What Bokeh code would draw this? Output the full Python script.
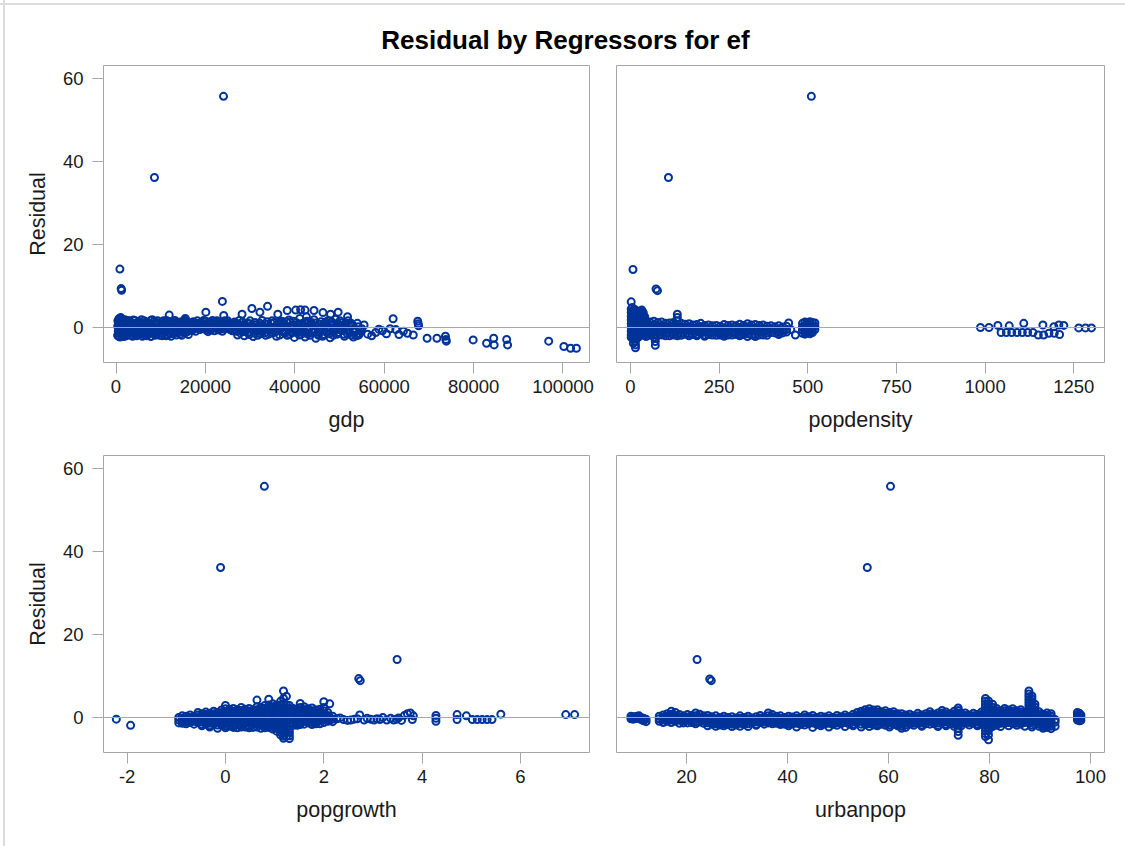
from bokeh.plotting import figure
from bokeh.models import Range1d, FixedTicker, Span, Label, BasicTickFormatter
from bokeh.layouts import column, row
from bokeh.embed import file_html
from bokeh.resources import INLINE

# ---------------- data ----------------
title_text = "Residual by Regressors for ef"
y_label = "Residual"
y_ticks = [0, 20, 40, 60]

gdp_ticks = [0, 20000, 40000, 60000, 80000, 100000]
popdensity_ticks = [0, 250, 500, 750, 1000, 1250]
popgrowth_ticks = [-2, 0, 2, 4, 6]
urbanpop_ticks = [20, 40, 60, 80, 100]

# gdp panel: (gdp, residual)
gdp_points = [
    (350, -1.9), (380, 0.3), (420, 1.6), (500, -0.9), (560, 0.9), (600, -2.1), (650, 2.1), (700, -0.2),
    (760, 1.2), (800, -1.4), (850, 0.5), (900, -2.3), (950, 1.8), (1000, -0.6), (1050, 2.4), (1100, 0.1),
    (1150, -1.7), (1200, 1.0), (1250, -1.0), (1300, 2.0), (1400, -2.0), (1450, 0.6), (1500, -0.4),
    (1600, 1.5), (1650, -1.5), (1700, 0.2), (1800, -2.2), (1850, 1.1), (1900, -0.8), (2000, 1.9),
    (2100, -1.2), (2200, 0.4), (2300, -2.0), (2400, 1.3), (2500, -0.3), (2600, 0.9), (2700, -1.6),
    (2800, 1.7), (2900, -0.7), (3000, 0.3),
    (3200, -1.8), (3400, 1.2), (3600, -0.5), (3800, 0.6), (4000, -1.3), (4200, 1.7), (4400, -0.1),
    (4600, -2.0), (4800, 0.9), (5000, -0.9), (5200, 1.4), (5400, 0.2), (5600, -1.6), (5800, 0.7),
    (6000, -0.4), (6300, 1.6), (6500, -1.9), (6800, 0.3), (7000, -1.0), (7200, 1.1), (7500, -0.2),
    (7800, -2.2), (8000, 0.8), (8300, -1.2), (8600, 1.5), (8900, 0.0), (9200, -1.7), (9500, 0.9),
    (9800, -0.6), (10100, 1.3), (10400, -1.4), (10700, 0.4), (11000, -0.3), (11300, 1.7), (11600, -1.8),
    (11900, 0.6), (12200, -0.8), (12500, 1.2), (12800, -1.5), (13100, 0.2), (13400, 1.0), (13700, -0.9),
    (14000, 0.5), (14300, -1.6), (14600, 1.4), (14900, -0.2), (15200, 0.9), (15500, -1.3), (15800, 1.6),
    (16100, 0.1), (16400, -0.7), (16700, 1.1),
    (3100, 0.8), (3500, -1.0), (3900, 1.8), (4300, -1.7), (4700, 0.3), (5100, -0.4), (5500, 1.0),
    (5900, -2.1), (6200, -0.8), (6600, 0.9), (7100, -1.5), (7400, 0.5), (7700, 1.6), (8200, -0.3),
    (8700, -1.9), (9000, 1.1), (9400, -0.9), (9900, 0.2), (10300, -2.0), (10600, 1.6), (11100, -1.0),
    (11500, 0.9), (12000, -1.4), (12400, 0.0), (12900, 1.5), (13300, -1.2), (13800, 0.8), (14200, -0.5),
    (14700, -1.9), (15100, 0.3), (15600, 1.2), (16000, -1.0), (16500, 0.5),
    (3300, 0.0), (3700, -2.1), (4100, 0.4), (4500, 1.1), (4900, -1.6), (5300, -0.6), (5700, 1.9),
    (6100, 0.6), (6400, -1.2), (6700, 1.3), (6900, -2.0), (7300, -0.6), (7600, 0.9), (7900, -0.9),
    (8100, 1.9), (8400, 0.4), (8800, -1.3), (9100, -0.3), (9300, 1.6), (9700, -1.9), (10000, -0.8),
    (10200, 0.7), (10500, -0.4), (10900, 1.0), (11200, -2.0), (11400, 0.1), (11800, 1.4), (12100, -0.2),
    (12300, -2.1), (12700, 0.6), (13000, -0.8), (13200, 1.7), (13500, -1.8), (13900, -0.3), (14100, 1.2),
    (14400, 0.0), (14800, 0.8), (15000, -1.1), (15300, 1.7), (15700, -0.5), (15900, 0.4), (16200, -1.7),
    (16600, 0.9), (16900, -0.3),
    (17000, 0.6), (17300, 1.4), (17600, -0.2), (17900, 0.9), (18200, 1.6), (18500, 0.2), (18800, -0.5),
    (19100, 1.2), (19400, 0.5), (19700, -0.1), (20000, 1.5), (20300, 0.8), (20600, -1.0), (20900, 0.2),
    (21200, 1.2), (21500, -0.3), (21800, 0.7), (22100, 1.4), (22400, 0.0), (22700, 0.9), (23000, -0.6),
    (23300, 0.4), (23600, 1.1), (23900, -0.3), (24200, 0.6), (24500, 1.3), (24800, -0.2), (25100, 0.3),
    (25500, -0.5), (25900, 0.8), (26300, 0.1), (26700, 1.0),
    (17100, -0.6), (17700, 1.1), (18300, -0.2), (19000, 0.3), (19600, 1.7), (20200, -0.6), (20800, 1.0),
    (21400, 0.4), (22000, -0.8), (22600, 1.6), (23200, 0.1), (23800, -0.9), (24400, 0.8), (25000, 1.6),
    (25700, -0.2), (26400, 0.5), (27000, -0.9),
    (17400, 0.3), (17800, -0.9), (18100, 0.6), (18600, 1.0), (18900, -0.1), (19300, 0.9), (19800, 0.3),
    (20400, -0.2), (20700, 1.3), (21100, -0.6), (21600, 1.7), (21900, 0.2), (22300, 0.9), (22800, -0.4),
    (23100, 1.3), (23500, -0.1), (24000, 0.3), (24300, 1.6), (24700, 0.5), (25300, 1.1), (25600, 0.4),
    (26000, -0.8), (26500, 1.3), (26900, 0.3),
    (27200, -1.8), (27500, 0.5), (27900, -0.7), (28300, 1.3), (28700, -2.0), (29100, 0.1), (29500, -1.2),
    (29900, 0.9), (30300, -0.4), (30700, -2.2), (31100, 1.2), (31500, -0.9), (31900, 0.3), (32300, -1.5),
    (32700, 1.7), (33100, -0.2), (33500, -1.9), (33900, 0.7), (34300, -0.6), (34700, 1.0), (35100, -1.3),
    (35500, 0.2), (35900, -2.1), (36300, 0.9), (36700, -0.5), (37100, 1.5), (37500, -1.1), (37900, 0.4),
    (38300, -1.9), (38700, 1.8), (39100, -0.3), (39500, 0.6), (39900, -2.4), (40300, 1.2), (40700, -0.8),
    (41100, 2.2), (41500, -1.6), (41900, 0.3), (42300, -2.3), (42700, 1.5), (43100, -0.4), (43500, 0.8),
    (43900, -1.2), (44300, 1.9), (44700, -2.6), (45100, 0.1), (45500, -0.9), (45900, 1.4), (46300, -1.7),
    (46700, 0.5), (47100, -0.2), (47500, 1.7), (47900, -2.5), (48300, 0.9), (48700, -1.0), (49100, 2.0),
    (49500, -1.6), (49900, 0.4), (50300, -0.7), (50700, 1.2), (51100, -2.1), (51500, 0.0), (51900, 1.6),
    (52300, -1.3), (52700, 0.7), (53100, -2.3), (53500, -0.5), (54000, 1.0), (54500, -1.4), (55000, -0.3),
    (27400, 0.9), (27800, -1.3), (28200, -0.1), (28600, 0.6), (29000, -0.9), (29400, 1.1), (29800, -1.7),
    (30200, 0.4), (30600, -0.2), (31000, -1.4), (31400, 0.7), (31800, -0.6), (32200, 1.0), (32600, -1.1),
    (33000, 0.3), (33400, -0.5), (33800, 1.4), (34200, -1.6), (34600, 0.1), (35000, -0.7), (35400, 1.2),
    (35800, -1.0), (36200, 0.5), (36600, -1.8), (37000, 0.0), (37400, 1.0), (37800, -1.4), (38200, 0.2),
    (38600, -0.6), (39000, 1.3), (39400, -1.3), (39800, 0.0), (40200, -1.1), (40600, 0.7), (41000, -1.8),
    (41400, 0.9), (41800, -0.5), (42200, 1.3), (42600, -1.2), (43000, 0.2), (43400, -1.9), (43800, 0.6),
    (44200, -0.4), (44600, 1.1), (45000, -1.5), (45400, 0.8), (45800, -0.3), (46200, -2.1), (46600, 1.0),
    (47000, -1.1), (47400, 0.2), (47800, -0.6), (48200, 1.4), (48600, -1.9), (49000, 0.1), (49400, 0.9),
    (49800, -1.2), (50200, 0.6), (50600, -0.4), (51000, -1.6), (51400, 1.1), (51800, -0.8), (52200, 0.3),
    (52600, -1.8), (53000, 0.5), (53400, -1.0), (53800, -2.0), (54200, 0.2), (54600, -0.8),
    (27600, 1.7), (28400, -1.0), (29200, -0.4), (30000, 1.6), (30900, 0.2), (31700, -1.9), (32500, 0.5),
    (33300, -1.3), (34000, -0.1), (34900, 1.6), (35700, -0.3), (36500, 1.3), (37300, -0.8), (38100, 1.4),
    (38900, -1.6), (39700, 1.5), (40500, -0.1), (41200, -1.0), (42000, 0.6), (42900, -1.6), (43700, 1.2),
    (44500, -0.9), (45300, -1.9), (46100, 0.2), (46900, 1.3), (47700, -1.5), (48500, 0.5), (49300, -0.4),
    (50100, 1.6), (50900, 0.3), (51700, -1.4), (52500, 1.1), (53300, -0.2), (54300, -1.8),
    (28200, 3.2), (30400, 4.6), (32200, 3.7), (33900, 5.1), (36200, 3.2), (38300, 4.1), (40200, 4.2),
    (41300, 4.3), (42300, 4.2), (42600, 2.6), (44300, 4.1), (46300, 3.6), (48000, 3.2), (49700, 3.7),
    (51800, 2.6), (20100, 3.7), (11900, 3.0), (24100, 2.9), (23800, 6.3), (15500, 2.2),
    (55500, 0.6), (56300, -1.6), (57200, -2.0), (58100, -1.2), (58800, -0.4), (59600, -0.8), (60500, -1.5),
    (61300, -0.3), (62000, 2.1), (62600, -0.5), (63300, -1.7), (64300, -0.9), (65200, -1.4), (66500, -1.8),
    (67500, 1.5), (67600, 0.9), (67700, 0.4),
    (69600, -2.6), (71800, -2.6), (73700, -2.1), (73800, -2.9), (73900, -3.3), (79900, -3.0), (82900, -3.8),
    (84500, -2.6), (84600, -4.2), (87400, -2.9), (87600, -4.2), (96800, -3.3), (100200, -4.6),
    (101700, -5.0), (103000, -5.0),
    (24050, 55.8), (8600, 36.2), (870, 14.1), (1150, 9.4), (1250, 9.0),
]

# popdensity panel: (popdensity, [residuals])
popdensity_points = [
    (2, [6.2, 4.5, 3.6, 2.7, 1.8, 0.9, 0.0, -0.9, -1.8, -2.4]),
    (5, [4.8, 3.9, 3.0, 2.1, 1.2, 0.3, -0.6, -1.5, -2.2]),
    (8, [4.2, 3.3, 2.4, 1.5, 0.6, -0.3, -1.2, -2.0, -2.8, -3.8]),
    (11, [4.4, 3.5, 2.6, 1.7, 0.8, -0.1, -1.0, -1.9, -2.7]),
    (14, [3.8, 2.9, 2.0, 1.1, 0.2, -0.7, -1.6, -2.5, -3.4, -4.2, -4.9]),
    (17, [4.0, 3.1, 2.2, 1.3, 0.4, -0.5, -1.4, -2.2]),
    (20, [3.4, 2.5, 1.6, 0.7, -0.2, -1.1, -2.0, -2.5]),
    (24, [3.9, 3.0, 2.1, 1.2, 0.3, -0.6, -1.5, -2.2]),
    (28, [4.0, 3.1, 2.2, 1.3, 0.4, -0.5, -1.4]),
    (32, [4.2, 3.3, 2.4, 1.5, 0.6, -0.3, -1.2, -1.8]),
    (36, [3.6, 2.7, 1.8, 0.9, 0.0, -0.9, -1.7]),
    (40, [2.6, 1.7, 0.8, -0.1, -1.0, -1.8]),
    (44, [1.6, 0.8, 0.0, -0.8, -1.6, -2.2]), (55, [1.3, 0.5, -0.3, -1.1, -1.8]),
    (66, [1.5, 0.7, -0.1, -0.9, -1.7, -2.3]), (70, [-2.6, -3.4, -4.3]),
    (77, [1.2, 0.4, -0.4, -1.2, -1.9]), (88, [1.3, 0.5, -0.3, -1.1, -1.8]),
    (99, [1.0, 0.2, -0.6, -1.4, -2.0]), (110, [1.1, 0.3, -0.5, -1.3, -2.0]),
    (121, [1.2, 0.4, -0.4, -1.2, -1.8]), (132, [3.2, 2.4, 1.6, 0.8, 0.0, -0.8, -1.6, -2.0]),
    (143, [1.0, 0.2, -0.6, -1.4, -1.9]), (154, [0.8, 0.0, -0.8, -1.6]),
    (165, [0.9, 0.1, -0.7, -1.5, -2.0]), (176, [0.6, -0.2, -1.0, -1.7]),
    (187, [0.7, -0.1, -0.9, -1.7, -2.0]), (198, [1.0, 0.2, -0.6, -1.4]),
    (209, [0.5, -0.3, -1.1, -1.8, -2.1]), (220, [0.6, -0.2, -1.0, -1.7]),
    (231, [0.4, -0.4, -1.2, -1.8]), (242, [0.5, -0.3, -1.1, -1.9]),
    (253, [0.3, -0.5, -1.3, -1.8]), (264, [0.7, -0.1, -0.9, -1.7, -2.1]),
    (275, [0.5, -0.3, -1.1, -1.8]), (286, [0.6, -0.2, -1.0, -1.8]),
    (297, [0.4, -0.4, -1.2, -1.7]), (308, [0.8, 0.0, -0.8, -1.6, -2.0]),
    (319, [0.5, -0.3, -1.1, -1.7]), (330, [0.9, 0.1, -0.7, -1.5, -2.2]),
    (341, [0.6, -0.2, -1.0, -1.8]), (352, [0.7, -0.1, -0.9, -1.7, -2.2]),
    (363, [0.5, -0.3, -1.1, -1.8]), (374, [0.6, -0.2, -1.0, -1.8]),
    (385, [0.3, -0.5, -1.3, -1.9]), (396, [0.4, -0.4, -1.2]), (407, [0.2, -0.6, -1.3]),
    (418, [0.4, -0.4, -1.2, -1.7]), (429, [0.1, -0.7, -1.3]), (440, [0.3, -0.5, -1.1]),
    (446, [1.1]), (452, [-0.5]), (465, [-1.8]),
    (485, [1.0, 0.2, -0.6, -1.4]), (492, [1.3, 0.5, -0.3, -1.1, -1.6]), (499, [1.2, 0.4, -0.4, -1.2]),
    (506, [1.4, 0.6, -0.2, -1.0, -1.5]), (513, [1.2, 0.4, -0.4, -1.2]), (520, [1.1, 0.3, -0.5]),
    (987, [0.0]), (1011, [0.0]), (1036, [0.5]), (1045, [-1.2]), (1060, [-1.2]), (1068, [0.4]),
    (1075, [-1.2]), (1090, [-1.2]), (1105, [-1.2]), (1109, [1.0]), (1120, [-1.2]), (1135, [-1.2]),
    (1150, [-1.8]), (1163, [0.6]), (1165, [-1.8]), (1180, [-1.4]), (1194, [0.2]), (1195, [-1.4]),
    (1208, [0.6]), (1210, [-1.7]), (1222, [0.5]), (1264, [-0.1]), (1283, [-0.1]), (1300, [-0.1]),
    (510, [55.8]), (107, [36.2]), (7, [14.0]), (72, [9.3]), (76, [8.9]),
]

# popgrowth panel: (popgrowth, [residuals])
popgrowth_points = [
    (-2.22, [-0.4]), (-1.93, [-1.9]),
    (-0.95, [0.0, -0.6, -1.3]), (-0.88, [0.4, -0.2, -0.8, -1.4]), (-0.80, [0.3, -0.4, -1.0, -1.5]),
    (-0.72, [0.6, 0.0, -0.6, -1.2]), (-0.64, [0.2, -0.3, -0.9, -1.6]),
    (-0.56, [1.2, 0.6, 0.0, -0.6, -1.2]), (-0.48, [0.9, 0.3, -0.4, -1.0, -1.6, -2.0]),
    (-0.40, [1.3, 0.7, 0.1, -0.5, -1.1, -1.6]), (-0.32, [1.0, 0.4, -0.2, -0.8, -1.4, -2.0, -2.3]),
    (-0.24, [1.5, 0.9, 0.3, -0.3, -0.9, -1.5]), (-0.16, [1.2, 0.6, 0.0, -0.6, -1.2, -1.8, -2.6]),
    (-0.08, [1.8, 1.2, 0.6, 0.0, -0.6, -1.2, -1.8]),
    (0.00, [2.9, 2.1, 1.4, 0.7, 0.0, -0.7, -1.4, -2.0, -2.5]),
    (0.08, [2.0, 1.3, 0.6, -0.1, -0.8, -1.5, -2.1]),
    (0.16, [2.2, 1.5, 0.8, 0.1, -0.6, -1.3, -2.0, -2.4]),
    (0.24, [1.9, 1.2, 0.5, -0.2, -0.9, -1.6, -2.5]),
    (0.32, [2.4, 1.7, 1.0, 0.3, -0.4, -1.1, -1.8, -2.3]),
    (0.40, [2.0, 1.3, 0.6, -0.1, -0.8, -1.5, -2.3]),
    (0.48, [2.2, 1.5, 0.8, 0.1, -0.6, -1.3, -2.0, -2.5]),
    (0.56, [1.9, 1.2, 0.5, -0.2, -0.9, -1.6, -2.4]),
    (0.64, [4.2, 2.6, 1.9, 1.2, 0.5, -0.2, -0.9, -1.6, -2.3]),
    (0.72, [2.4, 1.7, 1.0, 0.3, -0.4, -1.1, -1.8, -2.6]),
    (0.80, [2.9, 2.2, 1.5, 0.8, 0.1, -0.6, -1.3, -2.0, -2.5]),
    (0.88, [4.4, 3.0, 2.3, 1.6, 0.9, 0.2, -0.5, -1.2, -1.9, -2.4]),
    (0.96, [3.3, 2.6, 1.9, 1.2, 0.5, -0.2, -0.9, -1.6, -2.3, -2.8]),
    (1.04, [3.0, 2.3, 1.6, 0.9, 0.2, -0.5, -1.2, -1.9, -2.6, -3.3]),
    (1.12, [3.9, 3.0, 2.2, 1.5, 0.8, 0.1, -0.6, -1.3, -2.0, -2.8, -3.6, -4.2]),
    (1.18, [6.4, 4.6, 3.4, 2.5, 1.8, 1.1, 0.4, -0.3, -1.0, -1.7, -2.4, -3.1, -3.8, -4.5, -5.0]),
    (1.24, [5.1, 3.0, 2.2, 1.5, 0.8, 0.1, -0.6, -1.3, -2.0, -2.8, -3.6, -4.5]),
    (1.30, [2.9, 2.2, 1.5, 0.8, 0.1, -0.6, -1.3, -2.0, -2.8, -3.6, -4.4, -5.1]),
    (1.38, [2.2, 1.5, 0.8, 0.1, -0.6, -1.3, -1.9]),
    (1.46, [2.0, 1.3, 0.6, -0.1, -0.8, -1.5, -1.9]),
    (1.52, [3.4, 2.4, 1.6, 0.9, 0.2, -0.5, -1.2, -1.7]),
    (1.60, [2.6, 1.9, 1.2, 0.5, -0.2, -0.9, -1.6]),
    (1.68, [2.1, 1.4, 0.7, 0.0, -0.7, -1.3]),
    (1.76, [2.3, 1.6, 0.9, 0.2, -0.5, -1.2, -1.7]),
    (1.84, [1.8, 1.1, 0.4, -0.3, -1.0, -1.5]),
    (1.92, [2.0, 1.3, 0.6, -0.1, -0.8, -1.5]),
    (2.00, [3.8, 2.4, 1.6, 0.9, 0.2, -0.5, -1.2]),
    (2.08, [1.2, 0.5, -0.2, -0.9]), (2.12, [3.3, 0.1, -0.6]), (2.18, [0.3, -0.4, -1.0]),
    (2.27, [-0.3]), (2.33, [-0.1]), (2.40, [-0.5]), (2.48, [-0.7]), (2.55, [-0.6]), (2.62, [-0.4]),
    (2.68, [-0.3]), (2.73, [0.6]), (2.82, [-0.6]), (2.88, [-0.2]), (2.95, [-0.4]), (3.02, [-0.6]),
    (3.08, [-0.3]), (3.14, [-0.5]), (3.20, [0.0]), (3.28, [-0.6]), (3.36, [-0.2]), (3.42, [-0.6]),
    (3.48, [-0.4]), (3.52, [-0.1]), (3.58, [-0.7]), (3.64, [0.5]), (3.70, [0.9]), (3.76, [1.1]),
    (3.80, [-0.5]), (3.82, [0.4]),
    (4.28, [0.5, -0.2, -0.9]), (4.71, [0.7, -0.5]), (4.90, [0.4]), (5.02, [-0.5]), (5.12, [-0.5]),
    (5.22, [-0.5]), (5.32, [-0.5]), (5.42, [-0.5]), (5.60, [0.8]), (6.92, [0.7]), (7.10, [0.7]),
    (0.79, [55.8]), (-0.10, [36.2]), (3.49, [14.0]), (2.71, [9.4]), (2.74, [8.9]),
]

# urbanpop panel: (urbanpop, [residuals])
urbanpop_points = [
    (9.0, [0.3, -0.3]), (9.4, [0.1, -0.4]), (9.8, [0.2, -0.3]), (10.2, [0.3, -0.2]),
    (10.6, [0.4, -0.2]), (11.0, [0.0, -0.5]), (11.5, [-0.2, -0.8]), (12.0, [-0.4, -1.0]),
    (14.6, [0.3, -0.3, -0.9]), (15.4, [0.6, 0.0, -0.6, -1.2]), (16.2, [0.9, 0.3, -0.3, -0.9]),
    (17.0, [1.5, 0.8, 0.1, -0.6, -1.2]), (17.8, [1.2, 0.5, -0.2, -0.9]), (18.6, [0.7, 0.1, -0.6, -1.4]),
    (19.4, [0.4, -0.2, -0.8, -1.3]), (20.2, [0.7, 0.1, -0.6, -1.3]), (21.0, [0.5, -0.1, -0.7, -1.2]),
    (21.8, [1.1, 0.4, -0.3, -1.0, -1.5]), (22.6, [0.8, 0.2, -0.5, -1.1]), (23.4, [0.4, -0.2, -0.8, -1.4]),
    (24.2, [0.5, -0.1, -0.7, -1.3, -2.0]), (25.0, [0.2, -0.4, -1.0, -1.6]),
    (25.8, [0.4, -0.3, -0.9, -1.5, -2.1]), (26.6, [0.0, -0.6, -1.2, -1.8]),
    (27.4, [0.3, -0.3, -0.9, -1.5, -2.0]), (28.2, [0.0, -0.6, -1.2, -1.7]),
    (29.0, [0.2, -0.4, -1.0, -1.6, -2.2]), (29.8, [-0.1, -0.7, -1.3, -1.8]),
    (30.6, [0.4, -0.2, -0.8, -1.4, -2.1]), (31.4, [0.0, -0.6, -1.2, -1.7]),
    (32.2, [0.3, -0.3, -0.9, -1.5, -2.2]), (33.0, [-0.1, -0.7, -1.3]),
    (33.8, [0.2, -0.4, -1.0, -1.6, -1.9]), (34.6, [0.5, -0.1, -0.7, -1.2]),
    (35.4, [0.1, -0.5, -1.1, -1.6]), (36.2, [1.1, 0.4, -0.2, -0.8, -1.3]),
    (37.0, [0.7, 0.1, -0.5, -1.1, -1.5]), (37.8, [0.3, -0.3, -0.9, -1.4]),
    (38.6, [0.4, -0.2, -0.8, -1.3, -1.7]), (39.4, [0.0, -0.6, -1.2, -1.6]),
    (40.2, [0.3, -0.3, -0.9, -1.5, -2.0]), (41.0, [0.1, -0.5, -1.1, -1.5]),
    (41.8, [0.4, -0.2, -0.8, -1.4, -2.3]), (42.6, [0.0, -0.6, -1.2, -1.7]),
    (43.4, [0.6, 0.0, -0.6, -1.2, -1.8]), (44.2, [0.2, -0.4, -1.0, -1.5]),
    (45.0, [0.5, -0.1, -0.7, -1.3, -2.4]), (45.8, [0.0, -0.6, -1.2, -1.7]),
    (46.6, [0.3, -0.3, -0.9, -1.5, -2.0]), (47.4, [0.1, -0.5, -1.1, -1.6]),
    (48.2, [0.4, -0.2, -0.8, -1.4, -2.3]), (49.0, [0.0, -0.6, -1.2, -1.7]),
    (49.8, [0.5, -0.1, -0.7, -1.3, -1.9]), (50.6, [0.2, -0.4, -1.0, -1.5]),
    (51.4, [0.6, 0.0, -0.6, -1.2, -2.2]), (52.2, [0.2, -0.4, -1.0, -1.6]),
    (53.0, [0.8, 0.2, -0.4, -1.0, -1.6, -2.0]), (53.8, [1.2, 0.6, 0.0, -0.6, -1.2]),
    (54.6, [1.5, 0.9, 0.3, -0.3, -0.9, -1.6, -2.3]), (55.4, [1.9, 1.3, 0.7, 0.1, -0.5, -1.1, -1.7]),
    (56.2, [2.1, 1.5, 0.9, 0.3, -0.3, -0.9, -1.5, -2.2]), (57.0, [1.8, 1.2, 0.6, 0.0, -0.6, -1.2, -1.8]),
    (57.8, [1.9, 1.3, 0.7, 0.1, -0.5, -1.1, -1.7, -2.0]), (58.6, [1.4, 0.8, 0.2, -0.4, -1.0, -1.6]),
    (59.4, [1.6, 1.0, 0.4, -0.2, -0.8, -1.4, -1.9]), (60.2, [1.2, 0.6, 0.0, -0.6, -1.2, -1.8, -2.3]),
    (61.0, [1.4, 0.8, 0.2, -0.4, -1.0, -1.6]), (61.8, [0.9, 0.3, -0.3, -0.9, -1.5, -2.0]),
    (62.6, [0.9, 0.3, -0.3, -0.9, -1.5, -2.1, -2.6]), (63.4, [0.6, 0.0, -0.6, -1.2, -1.8, -2.4]),
    (64.2, [0.8, 0.2, -0.4, -1.0, -1.6]), (65.0, [0.4, -0.2, -0.8, -1.4, -1.9]),
    (65.8, [1.0, 0.4, -0.2, -0.8, -1.4]), (66.6, [0.6, 0.0, -0.6, -1.2, -1.8, -2.1]),
    (67.4, [0.9, 0.3, -0.3, -0.9, -1.5]), (68.2, [1.4, 0.8, 0.2, -0.4, -1.0, -1.6]),
    (69.0, [0.8, 0.2, -0.4, -1.0, -1.5]), (69.8, [1.1, 0.5, -0.1, -0.7, -1.3, -1.9, -2.2]),
    (70.6, [1.7, 1.1, 0.5, -0.1, -0.7, -1.3]), (71.4, [1.3, 0.7, 0.1, -0.5, -1.1, -1.7, -2.0]),
    (72.2, [0.9, 0.3, -0.3, -0.9, -1.5]), (73.0, [1.5, 0.9, 0.3, -0.3, -0.9, -1.5, -2.1]),
    (73.8, [2.3, 1.7, 1.1, 0.5, -0.1, -0.7, -1.3, -1.9, -2.6, -3.4, -4.3]),
    (74.4, [1.0, 0.4, -0.2, -0.8, -1.4, -2.0]), (75.2, [1.1, 0.5, -0.1, -0.7, -1.3]),
    (76.0, [0.6, 0.0, -0.6, -1.2, -1.8]), (76.8, [1.0, 0.4, -0.2, -0.8, -1.4]),
    (77.6, [0.7, 0.1, -0.5, -1.1, -1.7, -2.0]), (78.4, [1.3, 0.7, 0.1, -0.5, -1.1, -1.6]),
    (79.2, [4.6, 3.9, 3.2, 2.5, 1.8, 1.1, 0.4, -0.3, -1.0, -1.7, -2.4, -3.2, -3.9, -4.6]),
    (79.8, [4.0, 3.3, 2.6, 1.9, 1.2, 0.5, -0.2, -0.9, -1.6, -2.4, -3.2, -4.2, -5.4]),
    (80.6, [3.2, 2.5, 1.8, 1.1, 0.4, -0.3, -1.0, -1.7, -2.2]),
    (81.4, [2.2, 1.6, 1.0, 0.4, -0.2, -0.8, -1.4, -1.9]),
    (82.2, [1.6, 1.0, 0.4, -0.2, -0.8, -1.4, -2.2]), (83.0, [2.2, 1.6, 1.0, 0.4, -0.2, -0.8, -1.4]),
    (83.8, [1.8, 1.2, 0.6, 0.0, -0.6, -1.2, -2.0]), (84.6, [2.1, 1.5, 0.9, 0.3, -0.3, -0.9, -1.5]),
    (85.4, [1.6, 1.0, 0.4, -0.2, -0.8, -1.4, -1.9]), (86.2, [1.9, 1.3, 0.7, 0.1, -0.5, -1.1, -1.6]),
    (87.0, [1.2, 0.6, 0.0, -0.6, -1.2, -2.1]),
    (87.8, [6.4, 5.7, 5.0, 4.3, 3.6, 2.9, 2.2, 1.5, 0.8, 0.1, -0.6, -1.3]),
    (88.4, [5.2, 4.5, 3.8, 3.1, 2.4, 1.7, 1.0, 0.3, -0.4, -1.1, -1.8, -2.3]),
    (89.0, [3.2, 2.5, 1.8, 1.1, 0.4, -0.3, -1.0, -1.6]),
    (89.8, [1.4, 0.8, 0.2, -0.4, -1.0, -1.6, -2.1]),
    (90.6, [0.8, 0.2, -0.4, -1.0, -1.6, -2.2, -2.6]),
    (91.4, [1.1, 0.5, -0.1, -0.7, -1.3, -1.9, -2.4]),
    (92.2, [0.9, 0.3, -0.3, -0.9, -1.5, -2.1, -2.7]), (93.0, [-0.5, -1.1, -2.1]),
    (97.4, [1.2, 0.6, 0.0, -0.6]), (97.8, [1.0, 0.4, -0.2, -0.8]), (98.1, [0.6, 0.0, -0.7]),
    (60.4, [55.8]), (55.8, [36.2]), (22.1, [14.0]), (24.6, [9.3]), (24.9, [8.9]),
]

# ---------------- styling ----------------
FONT = "Liberation Sans"
BLUE = "#003399"
GRAY = "#a6a6a6"
TXT = "#1a1a1a"
BORDER_CSS_LEFT = "linear-gradient(to right, #ffffff 3px, #dcdcdc 3px, #dcdcdc 5px, #ffffff 5px)"
BORDER_CSS_TOP = "linear-gradient(to bottom, transparent 3px, #dcdcdc 3px, #dcdcdc 5px, transparent 5px)"


def split_pairs(pairs):
    return [a for a, _ in pairs], [b for _, b in pairs]


def flatten(cols):
    xs, ys = [], []
    for x, vals in cols:
        for v in vals:
            xs.append(x)
            ys.append(v)
    return xs, ys


def panel(xs, ys, x_range, ticks, xlabel, left_axis, fw, mbl, mbr, mbt, mbb, overrides=None):
    p = figure(frame_width=fw, frame_height=297, x_range=Range1d(*x_range),
               y_range=Range1d(-8.45, 63.25), min_border_left=mbl, min_border_right=mbr,
               min_border_top=mbt, min_border_bottom=mbb, toolbar_location=None,
               output_backend="svg", title=None,
               y_axis_location="left" if left_axis else None)
    p.xgrid.visible = False
    p.ygrid.visible = False
    p.outline_line_color = GRAY
    p.outline_line_width = 1
    p.background_fill_color = "white"
    xa = p.xaxis[0]
    xa.ticker = FixedTicker(ticks=ticks)
    xa.formatter = BasicTickFormatter(use_scientific=False)
    if overrides:
        xa.major_label_overrides = overrides
    xa.axis_label = xlabel
    xa.major_label_standoff = 6
    xa.axis_label_standoff = 12
    if left_axis:
        ya = p.yaxis[0]
        ya.ticker = FixedTicker(ticks=y_ticks)
        ya.axis_label = y_label
        ya.major_label_standoff = 9
        ya.axis_label_standoff = 10
    for a in p.axis:
        a.axis_line_color = None
        a.major_tick_line_color = GRAY
        a.major_tick_in = 0
        a.major_tick_out = 11
        a.minor_tick_line_color = None
        a.major_label_text_font = FONT
        a.major_label_text_font_size = "18.5px"
        a.major_label_text_color = TXT
        a.axis_label_text_font = FONT
        a.axis_label_text_font_size = "21.5px"
        a.axis_label_text_font_style = "normal"
        a.axis_label_text_color = TXT
    p.add_layout(Span(location=0, dimension="width", line_color=GRAY, line_width=1))
    p.scatter(xs, ys, marker="circle", size=7, fill_color=None,
              line_color=BLUE, line_width=2)
    return p


gx, gy = split_pairs(gdp_points)
dx, dy = flatten(popdensity_points)
px, py = flatten(popgrowth_points)
ux, uy = flatten(urbanpop_points)

p1 = panel(gx, gy, (-2800, 105930), gdp_ticks, "gdp", True, 486, 103, 13, 10, 83)
p2 = panel(dx, dy, (-39.5, 1336.7), popdensity_ticks, "popdensity", False, 488, 14, 21, 10, 83)
p3 = panel(px, py, (-2.481, 7.403), popgrowth_ticks, "popgrowth", True, 486, 103, 13, 10, 94,
           overrides={t: str(t) for t in popgrowth_ticks})
p4 = panel(ux, uy, (6.14, 102.77), urbanpop_ticks, "urbanpop", False, 488, 14, 21, 10, 94)

for p in (p1, p3):
    p.border_fill_alpha = 0
    p.styles = {"background": BORDER_CSS_LEFT}

# title strip
p0 = figure(width=1125, height=55, x_range=Range1d(0, 1125), y_range=Range1d(0, 55),
            min_border=0, toolbar_location=None, output_backend="svg", title=None,
            x_axis_location=None, y_axis_location=None)
p0.grid.visible = False
p0.outline_line_color = None
p0.background_fill_alpha = 0
p0.border_fill_alpha = 0
p0.styles = {"background": BORDER_CSS_TOP + ", " + BORDER_CSS_LEFT}
p0.add_layout(Label(x=565, y=15.5, text=title_text, text_align="center", text_baseline="middle",
                    text_font=FONT, text_font_size="26px", text_font_style="bold", text_color="black"))

layout = column(p0, row(p1, p2), row(p3, p4))
open("out.html", "w").write(file_html(layout, INLINE, "Residual by Regressors for ef"))
